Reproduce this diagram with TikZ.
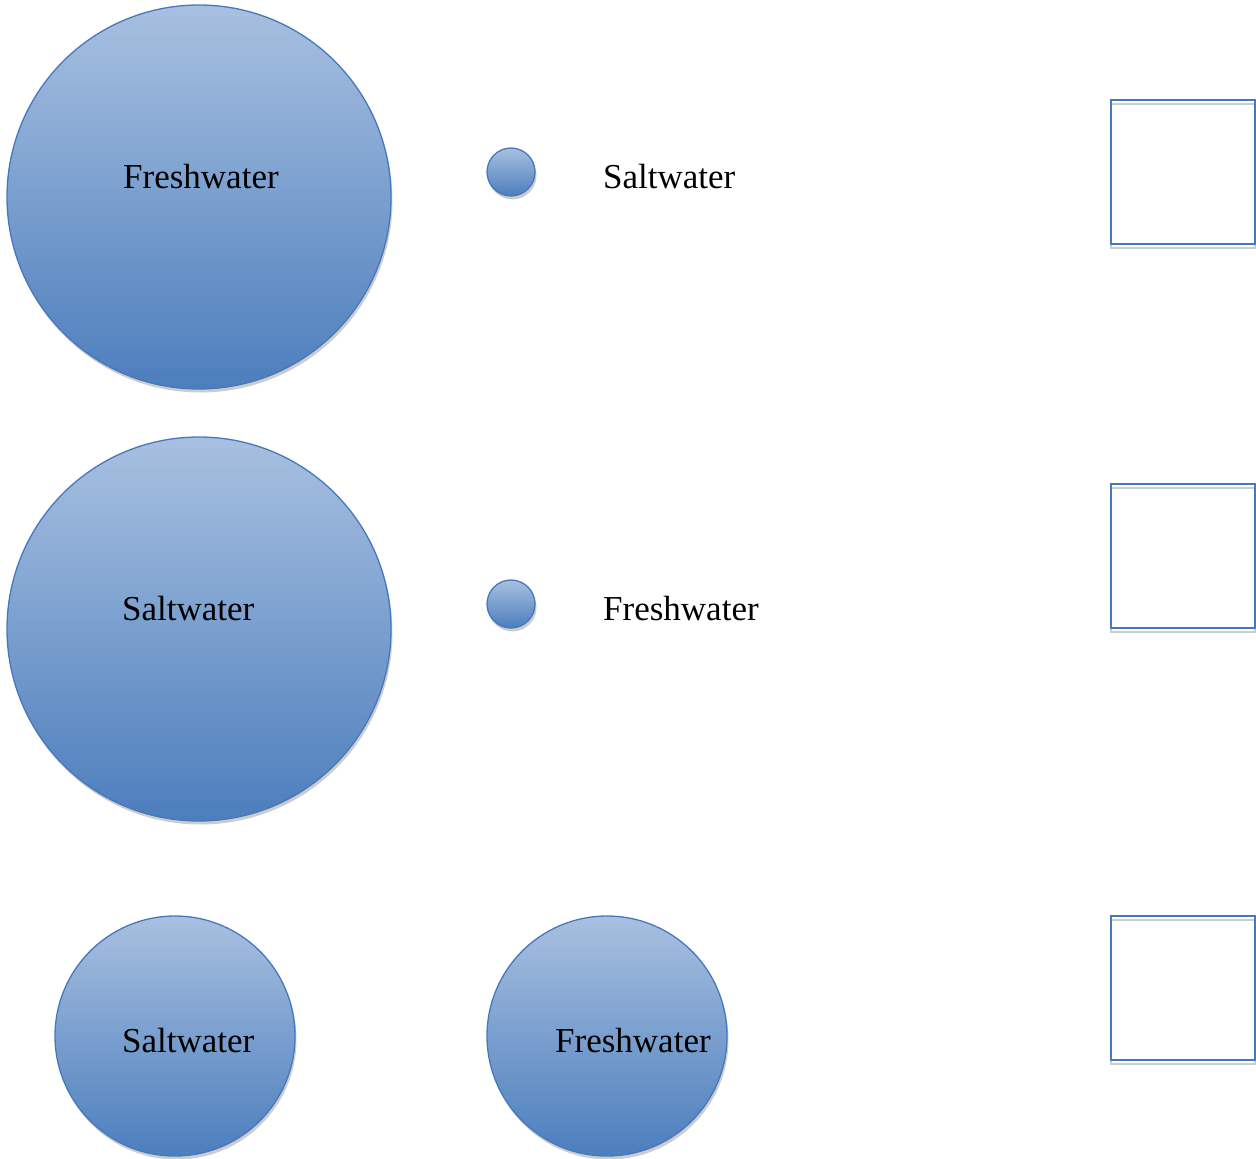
\documentclass[tikz,border=0pt]{standalone}
\usepackage{fontspec}
\setmainfont{Liberation Serif}
\usetikzlibrary{shadows}
\definecolor{topblue}{RGB}{168,192,224}
\definecolor{botblue}{RGB}{76,126,189}
\definecolor{edgeblue}{RGB}{70,120,190}
\definecolor{shadowgray}{RGB}{205,205,205}
\tikzset{
  water/.style={circle, draw=edgeblue, line width=1.3pt, top color=topblue, bottom color=botblue, inner sep=0pt},
  lbl/.style={anchor=base west, inner sep=0pt, font=\fontsize{35}{40}\selectfont, text=black},
  answer/.style={draw=edgeblue, line width=2pt, fill=white, minimum width=144pt, minimum height=144pt, inner sep=0pt, anchor=north west},
}
\begin{document}
\begin{tikzpicture}[x=1pt,y=-1pt]
\useasboundingbox (0,0) rectangle (1256,1159);
% shadows
\foreach \cx/\cy/\r in {199/197/192, 511/172/24, 199/629/192, 511/604/24, 175/1036/120, 607/1036/120}{
  \fill[shadowgray] (\cx+1.5,\cy+3.5) circle (\r);
}
\node[water, minimum size=384pt] (c1) at (199,197) {};
\node[water, minimum size=48pt] (s1) at (511,172) {};
\node[water, minimum size=384pt] (c2) at (199,629) {};
\node[water, minimum size=48pt] (s2) at (511,604) {};
\node[water, minimum size=240pt] (c3) at (175,1036) {};
\node[water, minimum size=240pt] (c4) at (607,1036) {};
% labels
\node[lbl] (t1) at (123,188) {Freshwater};
\node[lbl] (t2) at (603,188) {Saltwater};
\node[lbl] (t3) at (122,620) {Saltwater};
\node[lbl] (t4) at (603,620) {Freshwater};
\node[lbl] (t5) at (122,1052) {Saltwater};
\node[lbl] (t6) at (555,1052) {Freshwater};
% answer boxes
\foreach \y/\n in {100/b1, 484/b2, 916/b3}{
  \draw[shadowgray, line width=2pt] (1111,\y+4) rectangle (1255,\y+148);
  \draw[edgeblue, line width=2pt] (1111,\y) rectangle (1255,\y+144);
  \coordinate (\n) at (1111,\y);
}
\end{tikzpicture}
\end{document}
